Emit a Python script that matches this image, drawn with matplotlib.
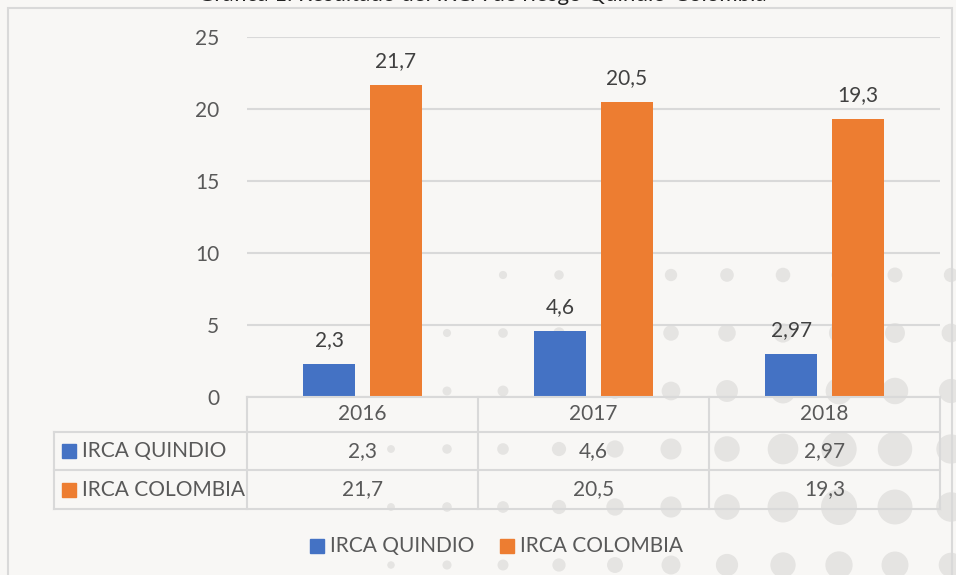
import math
import matplotlib
matplotlib.use("Agg")
import matplotlib.pyplot as plt
from matplotlib.patches import Rectangle, Circle
from matplotlib.lines import Line2D

years = ["2016", "2017", "2018"]
series = ["IRCA QUINDIO", "IRCA COLOMBIA"]
quindio = [2.3, 4.6, 2.97]
colombia = [21.7, 20.5, 19.3]
quindio_txt = ["2,3", "4,6", "2,97"]
colombia_txt = ["21,7", "20,5", "19,3"]
colors = ["#4472C4", "#ED7D31"]
title = "Gráfica 1. Resultado del IRCA de riesgo Quindío-Colombia"

W, H = 956, 575
BG = "#F8F7F5"
GRID = "#D9D9D9"
TXT = "#595959"
plt.rcParams["font.family"] = ["Lato", "DejaVu Sans"]


def fx(x):
    return x / W


def fy(y):
    return 1 - y / H


fig = plt.figure(figsize=(W / 100, H / 100), dpi=100, facecolor=BG)

# background decoration (template dots), purely cosmetic
for gx in range(279, 960, 56):
    for gy in range(275, 600, 58):
        d = math.hypot(gx - 860, (gy - 480) * 1.4)
        r = 21 * math.exp(-d / 280)
        if r > 3.5:
            fig.add_artist(Circle((gx, H - gy), r, transform=None, color="#E5E4E2",
                                  zorder=-5, lw=0))

# clipped title at the very top
fig.text(fx(482), fy(1), title, ha="center", va="baseline", fontsize=16, color="#222222")

# frame
fig.add_artist(Rectangle((fx(8), fy(H + 5)), fx(944), fy(8) - fy(H + 5),
                         transform=fig.transFigure, fill=False, ec=GRID, lw=1.5))

left, right, top, bottom = 247, 940, 37, 397
ax = fig.add_axes([fx(left), fy(bottom), fx(right - left), fy(top) - fy(bottom)])
ax.set_facecolor("none")

x = range(len(years))
bw = 0.225
off = 0.143
for vals, txts, c, sign in [(quindio, quindio_txt, colors[0], -1), (colombia, colombia_txt, colors[1], 1)]:
    pos = [i + sign * off for i in x]
    bars = ax.bar(pos, vals, width=bw, color=c, zorder=3)
    for b, t in zip(bars, txts):
        ax.annotate(t, (b.get_x() + b.get_width() / 2, b.get_height()), xytext=(0, 10),
                    textcoords="offset points", ha="center", va="bottom", fontsize=15, color="#404040")

ax.set_xlim(-0.5, 2.5)
ax.set_ylim(0, 25)
ax.set_yticks([0, 5, 10, 15, 20, 25])
ax.tick_params(axis="y", length=0, labelsize=15, labelcolor=TXT, pad=20)
ax.set_xticks([])
ax.yaxis.grid(True, color=GRID, lw=1.5, zorder=0)
for s in ax.spines.values():
    s.set_visible(False)

# data table below the axis
rows = [397, 432, 470, 509]
cols = [left, 478, 709, right]
lab_left = 54
line_kw = dict(color=GRID, lw=1.5, transform=fig.transFigure)
fig.add_artist(Line2D([fx(left), fx(right)], [fy(rows[0])] * 2, **line_kw))
for r in rows[1:]:
    fig.add_artist(Line2D([fx(lab_left), fx(right)], [fy(r)] * 2, **line_kw))
for c in cols:
    fig.add_artist(Line2D([fx(c)] * 2, [fy(rows[0]), fy(rows[-1])], **line_kw))
fig.add_artist(Line2D([fx(lab_left)] * 2, [fy(rows[1]), fy(rows[-1])], **line_kw))

for i, yr in enumerate(years):
    cx = (cols[i] + cols[i + 1]) / 2
    fig.text(fx(cx), fy((rows[0] + rows[1]) / 2), yr, ha="center", va="center", fontsize=15, color=TXT)
    fig.text(fx(cx), fy((rows[1] + rows[2]) / 2), quindio_txt[i], ha="center", va="center", fontsize=15, color=TXT)
    fig.text(fx(cx), fy((rows[2] + rows[3]) / 2), colombia_txt[i], ha="center", va="center", fontsize=15, color=TXT)

for j, name in enumerate(series):
    cy = (rows[j + 1] + rows[j + 2]) / 2
    fig.add_artist(Rectangle((fx(62), fy(cy + 7)), fx(14), fy(cy - 7) - fy(cy + 7),
                             transform=fig.transFigure, color=colors[j]))
    fig.text(fx(82), fy(cy), name, ha="left", va="center", fontsize=15, color=TXT)

# legend
leg = [(310, series[0], colors[0]), (500, series[1], colors[1])]
for lx, name, c in leg:
    fig.add_artist(Rectangle((fx(lx), fy(553)), fx(14), fy(539) - fy(553),
                             transform=fig.transFigure, color=c))
    fig.text(fx(lx + 20), fy(546), name, ha="left", va="center", fontsize=15, color=TXT)

fig.savefig("out.png", dpi=100, facecolor=BG)
